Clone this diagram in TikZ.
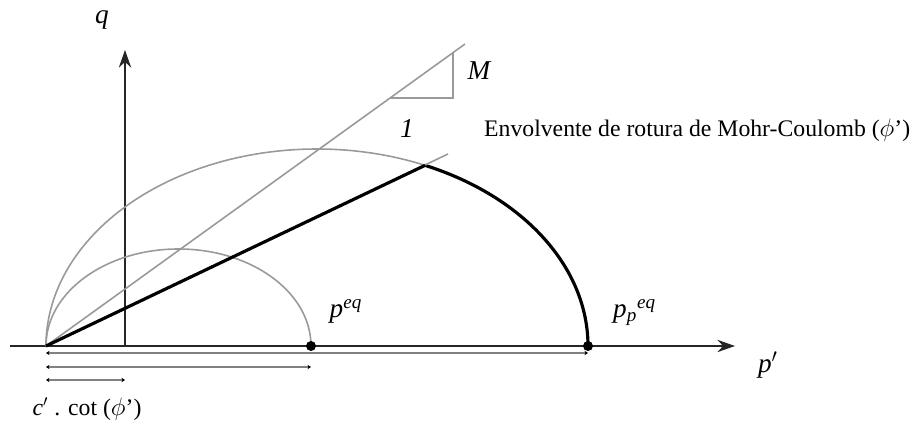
\documentclass[tikz,border=0pt]{standalone}
\usepackage{fontspec}
\setmainfont{Liberation Serif}
\usetikzlibrary{arrows.meta}

\begin{document}
\begin{tikzpicture}[
  axis/.style={line width=1.1pt, draw=black!85, -{Stealth[length=10pt,width=7pt]}},
  faint/.style={line width=0.9pt, draw=black!40},
  heavy/.style={line width=1.8pt},
  dimline/.style={line width=0.6pt, draw=black!50, {Stealth[length=2pt,width=2.5pt,black]}-{Stealth[length=2pt,width=2.5pt,black]}},
  mlabel/.style={font=\fontsize{15.5}{18}\selectfont\itshape},
  tlabel/.style={font=\fontsize{13.5}{16}\selectfont}
]
\useasboundingbox (-0.92,-1.54) rectangle (17.28,6.92);
% origin and the two yield points
\coordinate (O) at (0,0);
\coordinate (Peq) at (5.30,0);
\coordinate (Pp) at (10.84,0);
% axes
\coordinate (xl) at (-0.72,0);
\coordinate (xr) at (13.78,0);
\coordinate (yb) at (1.58,0);
\coordinate (yt) at (1.58,5.92);
\draw[axis] (xl) -- (xr);
\draw[axis] (yb) -- (yt);
% small yield surface
\draw[faint] (O) arc[start angle=180, end angle=0, x radius=2.65, y radius=1.94];
% big yield surface, gray part then heavy part
\draw[faint] (O) arc[start angle=180, end angle=66.5, x radius=5.42, y radius=3.94] coordinate (C);
\draw[heavy] (C) arc[start angle=66.5, end angle=0, x radius=5.42, y radius=3.94];
% Mohr-Coulomb envelope with slope triangle
\coordinate (mc) at (8.38,6.04);
\draw[faint] (O) -- (mc);
\coordinate (t1) at (6.88,4.96);
\coordinate (t2) at (8.14,4.96);
\coordinate (t3) at (8.14,5.86);
\draw[faint] (t1) -- (t2) -- (t3);
% critical state line
\coordinate (cs) at (8.04,3.84);
\draw[faint] (O) -- (cs);
\draw[heavy] (O) -- (C);
% dots
\fill (Peq) circle (0.1);
\fill (Pp) circle (0.1);
% dimension lines
\coordinate (d1a) at (0,-0.14);
\coordinate (d1b) at (10.84,-0.14);
\coordinate (d2a) at (0,-0.42);
\coordinate (d2b) at (5.30,-0.42);
\coordinate (d3a) at (0,-0.68);
\coordinate (d3b) at (1.58,-0.68);
\draw[dimline] (d1a) -- (d1b);
\draw[dimline] (d2a) -- (d2b);
\draw[dimline] (d3a) -- (d3b);
% labels
\node[mlabel] (qlab) at (1.12,6.52) {q};
\node[mlabel] (plab) at (14.44,-0.38) {p$'$};
\node[mlabel] (mlab) at (8.66,5.5) {M};
\node[mlabel] (onelab) at (7.22,4.34) {1};
\node[tlabel, anchor=west] (envlab) at (8.64,4.32) {Envolvente de rotura de Mohr-Coulomb ($\phi$’)};
\node[mlabel, anchor=base west] (peqlab) at (5.55,0.56) {p\textsuperscript{eq}};
\node[mlabel, anchor=base west] (pplab) at (11.22,0.56) {p\textsubscript{p}\textsuperscript{eq}};
\node[tlabel] (clab) at (0.82,-1.26) {\textit{c}$'$ . cot ($\phi$’)};
\end{tikzpicture}
\end{document}
